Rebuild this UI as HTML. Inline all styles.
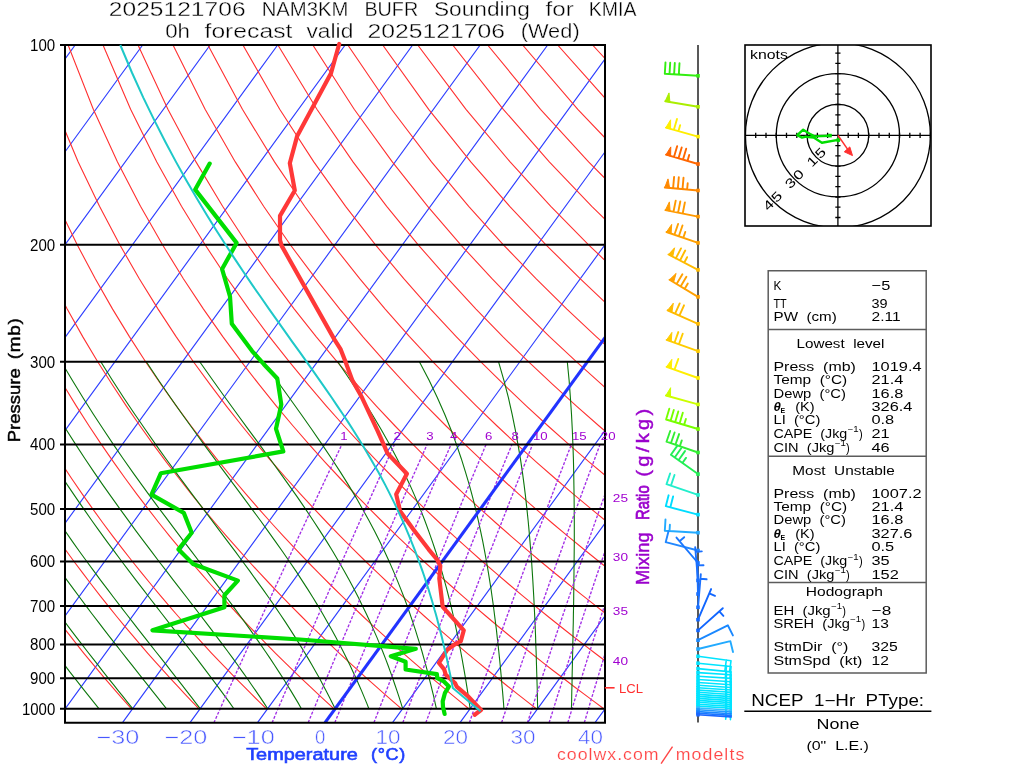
<!DOCTYPE html>
<html><head><meta charset="utf-8"><style>
html,body{margin:0;padding:0;background:#fff;}
svg{display:block;}
text{font-family:"Liberation Sans",sans-serif;white-space:pre;}
svg{will-change:transform;}
</style></head><body>
<svg width="1024" height="768" viewBox="0 0 1024 768">
<rect width="1024" height="768" fill="#fff"/>
<clipPath id="cp"><rect x="65" y="45" width="540" height="677.7"/></clipPath>
<g clip-path="url(#cp)">
<path d="M-755 722.7L-262.31 45M-687.5 722.7L-194.81 45M-620 722.7L-127.31 45M-552.5 722.7L-59.81 45M-485 722.7L7.69 45M-417.5 722.7L75.19 45M-350 722.7L142.69 45M-282.5 722.7L210.19 45M-215 722.7L277.69 45M-147.5 722.7L345.19 45M-80 722.7L412.69 45M-12.5 722.7L480.19 45M55 722.7L547.69 45M122.5 722.7L615.19 45M190 722.7L682.69 45M257.5 722.7L750.19 45M392.5 722.7L885.19 45M460 722.7L952.69 45M527.5 722.7L1020.19 45M595 722.7L1087.69 45M662.5 722.7L1155.19 45" stroke="#2f3fff" stroke-width="1.15" fill="none"/>
<path d="M-3.7 708.7L-9.2 701.4L-14.8 693.9L-20.5 686.2L-26.2 678.3L-32.0 670.2L-37.9 661.9L-43.8 653.3L-49.9 644.4L-56.0 635.2L-62.1 625.8L-68.4 616.0L-74.7 605.9L-81.2 595.4L-87.7 584.5L-94.3 573.2L-101.0 561.5L-107.8 549.2L-114.7 536.4L-121.7 523.0L-128.8 508.9L-136.0 494.1L-143.3 478.5L-150.7 462.1L-158.3 444.6L-165.9 426.0L-173.7 406.1L-181.5 384.7L-189.4 361.7L-197.3 336.6L-205.3 309.1L-213.3 278.7L-221.1 244.8L-228.7 206.3L-235.8 161.9L-242.0 109.3L-246.6 45.0M63.8 708.7L57.8 701.4L51.7 693.9L45.5 686.2L39.3 678.3L33.0 670.2L26.5 661.9L20.1 653.3L13.5 644.4L6.8 635.2L0.0 625.8L-6.8 616.0L-13.8 605.9L-20.8 595.4L-28.0 584.5L-35.3 573.2L-42.7 561.5L-50.2 549.2L-57.8 536.4L-65.5 523.0L-73.4 508.9L-81.4 494.1L-89.6 478.5L-97.9 462.1L-106.3 444.6L-114.9 426.0L-123.6 406.1L-132.5 384.7L-141.5 361.7L-150.7 336.6L-159.9 309.1L-169.2 278.7L-178.5 244.8L-187.7 206.3L-196.6 161.9L-204.8 109.3L-211.6 45.0M131.3 708.7L124.8 701.4L118.2 693.9L111.5 686.2L104.8 678.3L97.9 670.2L91.0 661.9L83.9 653.3L76.8 644.4L69.6 635.2L62.2 625.8L54.8 616.0L47.2 605.9L39.5 595.4L31.7 584.5L23.8 573.2L15.7 561.5L7.5 549.2L-0.9 536.4L-9.4 523.0L-18.0 508.9L-26.9 494.1L-35.9 478.5L-45.0 462.1L-54.4 444.6L-63.9 426.0L-73.6 406.1L-83.6 384.7L-93.7 361.7L-104.0 336.6L-114.5 309.1L-125.1 278.7L-135.9 244.8L-146.7 206.3L-157.3 161.9L-167.5 109.3L-176.7 45.0M198.8 708.7L191.8 701.4L184.7 693.9L177.6 686.2L170.3 678.3L162.9 670.2L155.4 661.9L147.8 653.3L140.1 644.4L132.3 635.2L124.4 625.8L116.3 616.0L108.2 605.9L99.8 595.4L91.4 584.5L82.8 573.2L74.0 561.5L65.1 549.2L56.0 536.4L46.8 523.0L37.3 508.9L27.7 494.1L17.9 478.5L7.8 462.1L-2.4 444.6L-12.9 426.0L-23.6 406.1L-34.6 384.7L-45.8 361.7L-57.3 336.6L-69.1 309.1L-81.1 278.7L-93.3 244.8L-105.6 206.3L-118.0 161.9L-130.2 109.3L-141.7 45.0M266.3 708.7L258.8 701.4L251.3 693.9L243.6 686.2L235.8 678.3L227.9 670.2L219.9 661.9L211.7 653.3L203.5 644.4L195.1 635.2L186.6 625.8L177.9 616.0L169.1 605.9L160.2 595.4L151.1 584.5L141.8 573.2L132.4 561.5L122.7 549.2L112.9 536.4L102.9 523.0L92.7 508.9L82.3 494.1L71.6 478.5L60.7 462.1L49.5 444.6L38.1 426.0L26.4 406.1L14.4 384.7L2.0 361.7L-10.6 336.6L-23.6 309.1L-37.0 278.7L-50.6 244.8L-64.6 206.3L-78.8 161.9L-93.0 109.3L-106.7 45.0M333.8 708.7L325.9 701.4L317.8 693.9L309.6 686.2L301.3 678.3L292.8 670.2L284.3 661.9L275.6 653.3L266.8 644.4L257.8 635.2L248.7 625.8L239.5 616.0L230.1 605.9L220.5 595.4L210.7 584.5L200.8 573.2L190.7 561.5L180.4 549.2L169.8 536.4L159.1 523.0L148.1 508.9L136.8 494.1L125.3 478.5L113.6 462.1L101.5 444.6L89.1 426.0L76.4 406.1L63.3 384.7L49.9 361.7L36.0 336.6L21.8 309.1L7.1 278.7L-8.0 244.8L-23.6 206.3L-39.5 161.9L-55.7 109.3L-71.8 45.0M401.3 708.7L392.9 701.4L384.3 693.9L375.6 686.2L366.8 678.3L357.8 670.2L348.7 661.9L339.5 653.3L330.1 644.4L320.6 635.2L310.9 625.8L301.1 616.0L291.0 605.9L280.8 595.4L270.4 584.5L259.8 573.2L249.0 561.5L238.0 549.2L226.7 536.4L215.2 523.0L203.4 508.9L191.4 494.1L179.1 478.5L166.4 462.1L153.4 444.6L140.1 426.0L126.4 406.1L112.3 384.7L97.7 361.7L82.7 336.6L67.2 309.1L51.2 278.7L34.6 244.8L17.4 206.3L-0.3 161.9L-18.4 109.3L-36.8 45.0M468.8 708.7L459.9 701.4L450.8 693.9L441.6 686.2L432.3 678.3L422.8 670.2L413.2 661.9L403.4 653.3L393.5 644.4L383.4 635.2L373.1 625.8L362.6 616.0L352.0 605.9L341.2 595.4L330.1 584.5L318.8 573.2L307.4 561.5L295.6 549.2L283.6 536.4L271.4 523.0L258.8 508.9L246.0 494.1L232.8 478.5L219.3 462.1L205.4 444.6L191.1 426.0L176.4 406.1L161.2 384.7L145.6 361.7L129.4 336.6L112.6 309.1L95.3 278.7L77.2 244.8L58.5 206.3L39.0 161.9L18.8 109.3L-1.8 45.0M536.3 708.7L526.9 701.4L517.3 693.9L507.6 686.2L497.8 678.3L487.8 670.2L477.6 661.9L467.3 653.3L456.8 644.4L446.1 635.2L435.3 625.8L424.2 616.0L413.0 605.9L401.5 595.4L389.8 584.5L377.9 573.2L365.7 561.5L353.2 549.2L340.5 536.4L327.5 523.0L314.2 508.9L300.5 494.1L286.5 478.5L272.1 462.1L257.3 444.6L242.1 426.0L226.4 406.1L210.2 384.7L193.4 361.7L176.1 336.6L158.1 309.1L139.3 278.7L119.8 244.8L99.5 206.3L78.2 161.9L56.1 109.3L33.1 45.0M603.8 708.7L593.9 701.4L583.8 693.9L573.6 686.2L563.3 678.3L552.7 670.2L542.0 661.9L531.2 653.3L520.1 644.4L508.9 635.2L497.4 625.8L485.8 616.0L473.9 605.9L461.8 595.4L449.5 584.5L436.9 573.2L424.0 561.5L410.9 549.2L397.4 536.4L383.7 523.0L369.6 508.9L355.1 494.1L340.3 478.5L325.0 462.1L309.3 444.6L293.1 426.0L276.4 406.1L259.2 384.7L241.3 361.7L222.8 336.6L203.5 309.1L183.4 278.7L162.5 244.8L140.5 206.3L117.5 161.9L93.3 109.3L68.1 45.0M671.3 708.7L660.9 701.4L650.4 693.9L639.6 686.2L628.8 678.3L617.7 670.2L606.5 661.9L595.1 653.3L583.5 644.4L571.6 635.2L559.6 625.8L547.4 616.0L534.9 605.9L522.1 595.4L509.2 584.5L495.9 573.2L482.4 561.5L468.5 549.2L454.3 536.4L439.8 523.0L424.9 508.9L409.7 494.1L394.0 478.5L377.9 462.1L361.3 444.6L344.1 426.0L326.4 406.1L308.1 384.7L289.2 361.7L269.4 336.6L248.9 309.1L227.5 278.7L205.1 244.8L181.5 206.3L156.8 161.9L130.6 109.3L103.0 45.0M738.8 708.7L727.9 701.4L716.9 693.9L705.7 686.2L694.3 678.3L682.7 670.2L670.9 661.9L659.0 653.3L646.8 644.4L634.4 635.2L621.8 625.8L608.9 616.0L595.8 605.9L582.5 595.4L568.8 584.5L554.9 573.2L540.7 561.5L526.1 549.2L511.2 536.4L496.0 523.0L480.3 508.9L464.2 494.1L447.7 478.5L430.7 462.1L413.2 444.6L395.1 426.0L376.4 406.1L357.1 384.7L337.0 361.7L316.1 336.6L294.3 309.1L271.6 278.7L247.7 244.8L222.6 206.3L196.0 161.9L167.9 109.3L138.0 45.0M806.3 708.7L794.9 701.4L783.4 693.9L771.7 686.2L759.8 678.3L747.7 670.2L735.4 661.9L722.8 653.3L710.1 644.4L697.2 635.2L684.0 625.8L670.5 616.0L656.8 605.9L642.8 595.4L628.5 584.5L613.9 573.2L599.0 561.5L583.8 549.2L568.1 536.4L552.1 523.0L535.7 508.9L518.8 494.1L501.5 478.5L483.6 462.1L465.2 444.6L446.1 426.0L426.4 406.1L406.0 384.7L384.9 361.7L362.8 336.6L339.8 309.1L315.7 278.7L290.3 244.8L263.6 206.3L235.3 161.9L205.1 109.3L173.0 45.0M873.8 708.7L862.0 701.4L849.9 693.9L837.7 686.2L825.3 678.3L812.6 670.2L799.8 661.9L786.7 653.3L773.4 644.4L759.9 635.2L746.1 625.8L732.1 616.0L717.8 605.9L703.1 595.4L688.2 584.5L673.0 573.2L657.4 561.5L641.4 549.2L625.0 536.4L608.3 523.0L591.1 508.9L573.4 494.1L555.2 478.5L536.4 462.1L517.1 444.6L497.1 426.0L476.5 406.1L455.0 384.7L432.7 361.7L409.5 336.6L385.2 309.1L359.7 278.7L332.9 244.8L304.6 206.3L274.5 161.9L242.4 109.3L207.9 45.0M941.3 708.7L929.0 701.4L916.4 693.9L903.7 686.2L890.8 678.3L877.6 670.2L864.2 661.9L850.6 653.3L836.8 644.4L822.7 635.2L808.3 625.8L793.7 616.0L778.7 605.9L763.5 595.4L747.9 584.5L732.0 573.2L715.7 561.5L699.0 549.2L681.9 536.4L664.4 523.0L646.4 508.9L627.9 494.1L608.9 478.5L589.3 462.1L569.1 444.6L548.1 426.0L526.5 406.1L504.0 384.7L480.6 361.7L456.2 336.6L430.6 309.1L403.8 278.7L375.5 244.8L345.6 206.3L313.8 161.9L279.7 109.3L242.9 45.0M1008.8 708.7L996.0 701.4L983.0 693.9L969.7 686.2L956.3 678.3L942.6 670.2L928.7 661.9L914.5 653.3L900.1 644.4L885.4 635.2L870.5 625.8L855.2 616.0L839.7 605.9L823.8 595.4L807.6 584.5L791.0 573.2L774.0 561.5L756.7 549.2L738.8 536.4L720.6 523.0L701.8 508.9L682.5 494.1L662.6 478.5L642.2 462.1L621.0 444.6L599.1 426.0L576.5 406.1L552.9 384.7L528.4 361.7L502.8 336.6L476.0 309.1L447.9 278.7L418.2 244.8L386.7 206.3L353.0 161.9L316.9 109.3L277.9 45.0M1076.3 708.7L1063.0 701.4L1049.5 693.9L1035.7 686.2L1021.8 678.3L1007.6 670.2L993.1 661.9L978.4 653.3L963.4 644.4L948.2 635.2L932.7 625.8L916.8 616.0L900.6 605.9L884.1 595.4L867.3 584.5L850.0 573.2L832.4 561.5L814.3 549.2L795.7 536.4L776.7 523.0L757.2 508.9L737.1 494.1L716.4 478.5L695.0 462.1L673.0 444.6L650.1 426.0L626.5 406.1L601.9 384.7L576.3 361.7L549.5 336.6L521.5 309.1L492.0 278.7L460.8 244.8L427.7 206.3L392.3 161.9L354.2 109.3L312.8 45.0M1143.8 708.7L1130.0 701.4L1116.0 693.9L1101.7 686.2L1087.3 678.3L1072.5 670.2L1057.5 661.9L1042.3 653.3L1026.8 644.4L1011.0 635.2L994.8 625.8L978.4 616.0L961.6 605.9L944.5 595.4L926.9 584.5L909.0 573.2L890.7 561.5L871.9 549.2L852.6 536.4L832.9 523.0L812.6 508.9L791.6 494.1L770.1 478.5L747.9 462.1L724.9 444.6L701.2 426.0L676.5 406.1L650.9 384.7L624.1 361.7L596.2 336.6L566.9 309.1L536.0 278.7L503.4 244.8L468.7 206.3L431.5 161.9L391.5 109.3L347.8 45.0M1211.3 708.7L1197.0 701.4L1182.5 693.9L1167.8 686.2L1152.8 678.3L1137.5 670.2L1122.0 661.9L1106.2 653.3L1090.1 644.4L1073.7 635.2L1057.0 625.8L1040.0 616.0L1022.6 605.9L1004.8 595.4L986.6 584.5L968.0 573.2L949.0 561.5L929.5 549.2L909.5 536.4L889.0 523.0L867.9 508.9L846.2 494.1L823.8 478.5L800.8 462.1L776.9 444.6L752.2 426.0L726.5 406.1L699.8 384.7L672.0 361.7L642.9 336.6L612.3 309.1L580.1 278.7L546.0 244.8L509.7 206.3L470.8 161.9L428.7 109.3L382.7 45.0M1278.8 708.7L1264.0 701.4L1249.0 693.9L1233.8 686.2L1218.3 678.3L1202.5 670.2L1186.4 661.9L1170.1 653.3L1153.4 644.4L1136.5 635.2L1119.2 625.8L1101.5 616.0L1083.5 605.9L1065.1 595.4L1046.3 584.5L1027.1 573.2L1007.4 561.5L987.2 549.2L966.4 536.4L945.2 523.0L923.3 508.9L900.8 494.1L877.6 478.5L853.6 462.1L828.8 444.6L803.2 426.0L776.5 406.1L748.8 384.7L719.8 361.7L689.6 336.6L657.7 309.1L624.2 278.7L588.6 244.8L550.8 206.3L510.1 161.9L466.0 109.3L417.7 45.0M1346.3 708.7L1331.1 701.4L1315.5 693.9L1299.8 686.2L1283.7 678.3L1267.4 670.2L1250.9 661.9L1234.0 653.3L1216.8 644.4L1199.2 635.2L1181.3 625.8L1163.1 616.0L1144.5 605.9L1125.5 595.4L1106.0 584.5L1086.1 573.2L1065.7 561.5L1044.8 549.2L1023.4 536.4L1001.3 523.0L978.7 508.9L955.4 494.1L931.3 478.5L906.5 462.1L880.8 444.6L854.2 426.0L826.5 406.1L797.7 384.7L767.7 361.7L736.2 336.6L703.2 309.1L668.3 278.7L631.3 244.8L591.8 206.3L549.3 161.9L503.3 109.3L452.7 45.0M1413.8 708.7L1398.1 701.4L1382.1 693.9L1365.8 686.2L1349.2 678.3L1332.4 670.2L1315.3 661.9L1297.9 653.3L1280.1 644.4L1262.0 635.2L1243.5 625.8L1224.7 616.0L1205.4 605.9L1185.8 595.4L1165.7 584.5L1145.1 573.2L1124.0 561.5L1102.4 549.2L1080.3 536.4L1057.5 523.0L1034.0 508.9L1009.9 494.1L985.0 478.5L959.3 462.1L932.7 444.6L905.2 426.0L876.5 406.1L846.7 384.7L815.5 361.7L782.9 336.6L748.6 309.1L712.4 278.7L673.9 244.8L632.8 206.3L588.6 161.9L540.5 109.3L487.6 45.0M1481.3 708.7L1465.1 701.4L1448.6 693.9L1431.8 686.2L1414.7 678.3L1397.4 670.2L1379.7 661.9L1361.7 653.3L1343.4 644.4L1324.7 635.2L1305.7 625.8L1286.3 616.0L1266.4 605.9L1246.1 595.4L1225.4 584.5L1204.1 573.2L1182.4 561.5L1160.1 549.2L1137.2 536.4L1113.6 523.0L1089.4 508.9L1064.5 494.1L1038.8 478.5L1012.2 462.1L984.7 444.6L956.2 426.0L926.5 406.1L895.7 384.7L863.4 361.7L829.6 336.6L794.0 309.1L756.4 278.7L716.5 244.8L673.8 206.3L627.8 161.9L577.8 109.3L522.6 45.0M1548.8 708.7L1532.1 701.4L1515.1 693.9L1497.8 686.2L1480.2 678.3L1462.4 670.2L1444.2 661.9L1425.6 653.3L1406.8 644.4L1387.5 635.2L1367.9 625.8L1347.8 616.0L1327.4 605.9L1306.4 595.4L1285.0 584.5L1263.1 573.2L1240.7 561.5L1217.7 549.2L1194.1 536.4L1169.8 523.0L1144.8 508.9L1119.1 494.1L1092.5 478.5L1065.1 462.1L1036.6 444.6L1007.2 426.0L976.5 406.1L944.6 384.7L911.3 361.7L876.3 336.6L839.4 309.1L800.5 278.7L759.1 244.8L714.8 206.3L667.1 161.9L615.0 109.3L557.6 45.0M1616.3 708.7L1599.1 701.4L1581.6 693.9L1563.8 686.2L1545.7 678.3L1527.3 670.2L1508.6 661.9L1489.5 653.3L1470.1 644.4L1450.3 635.2L1430.0 625.8L1409.4 616.0L1388.3 605.9L1366.8 595.4L1344.7 584.5L1322.2 573.2L1299.0 561.5L1275.3 549.2L1251.0 536.4L1225.9 523.0L1200.2 508.9L1173.6 494.1L1146.2 478.5L1117.9 462.1L1088.6 444.6L1058.2 426.0L1026.6 406.1L993.6 384.7L959.1 361.7L922.9 336.6L884.9 309.1L844.6 278.7L801.7 244.8L755.9 206.3L706.3 161.9L652.3 109.3L592.5 45.0M1683.8 708.7L1666.1 701.4L1648.1 693.9L1629.8 686.2L1611.2 678.3L1592.3 670.2L1573.0 661.9L1553.4 653.3L1533.4 644.4L1513.0 635.2L1492.2 625.8L1471.0 616.0L1449.3 605.9L1427.1 595.4L1404.4 584.5L1381.2 573.2L1357.4 561.5L1332.9 549.2L1307.9 536.4L1282.1 523.0L1255.5 508.9L1228.2 494.1L1200.0 478.5L1170.8 462.1L1140.6 444.6L1109.2 426.0L1076.6 406.1L1042.5 384.7L1007.0 361.7L969.6 336.6L930.3 309.1L888.7 278.7L844.4 244.8L796.9 206.3L745.6 161.9L689.6 109.3L627.5 45.0M1751.3 708.7L1733.1 701.4L1714.7 693.9L1695.9 686.2L1676.7 678.3L1657.3 670.2L1637.5 661.9L1617.3 653.3L1596.7 644.4L1575.8 635.2L1554.4 625.8L1532.6 616.0L1510.2 605.9L1487.4 595.4L1464.1 584.5L1440.2 573.2L1415.7 561.5L1390.6 549.2L1364.8 536.4L1338.2 523.0L1310.9 508.9L1282.8 494.1L1253.7 478.5L1223.6 462.1L1192.5 444.6L1160.2 426.0L1126.6 406.1L1091.5 384.7L1054.8 361.7L1016.3 336.6L975.7 309.1L932.7 278.7L887.0 244.8L837.9 206.3L784.9 161.9L726.8 109.3L662.4 45.0M1818.8 708.7L1800.2 701.4L1781.2 693.9L1761.9 686.2L1742.2 678.3L1722.3 670.2L1701.9 661.9L1681.2 653.3L1660.1 644.4L1638.5 635.2L1616.6 625.8L1594.1 616.0L1571.2 605.9L1547.8 595.4L1523.8 584.5L1499.2 573.2L1474.0 561.5L1448.2 549.2L1421.7 536.4L1394.4 523.0L1366.3 508.9L1337.3 494.1L1307.4 478.5L1276.5 462.1L1244.5 444.6L1211.2 426.0L1176.6 406.1L1140.5 384.7L1102.7 361.7L1063.0 336.6L1021.1 309.1L976.8 278.7L929.6 244.8L878.9 206.3L824.1 161.9L764.1 109.3L697.4 45.0M1886.3 708.7L1867.2 701.4L1847.7 693.9L1827.9 686.2L1807.7 678.3L1787.2 670.2L1766.4 661.9L1745.1 653.3L1723.4 644.4L1701.3 635.2L1678.7 625.8L1655.7 616.0L1632.2 605.9L1608.1 595.4L1583.5 584.5L1558.2 573.2L1532.4 561.5L1505.8 549.2L1478.6 536.4L1450.5 523.0L1421.7 508.9L1391.9 494.1L1361.2 478.5L1329.4 462.1L1296.4 444.6L1262.2 426.0L1226.6 406.1L1189.4 384.7L1150.5 361.7L1109.7 336.6L1066.6 309.1L1020.9 278.7L972.2 244.8L920.0 206.3L863.4 161.9L801.4 109.3L732.4 45.0M1953.8 708.7L1934.2 701.4L1914.2 693.9L1893.9 686.2L1873.2 678.3L1852.2 670.2L1830.8 661.9L1809.0 653.3L1786.7 644.4L1764.1 635.2L1740.9 625.8L1717.3 616.0L1693.1 605.9L1668.4 595.4L1643.1 584.5L1617.2 573.2L1590.7 561.5L1563.5 549.2L1535.5 536.4L1506.7 523.0L1477.0 508.9L1446.5 494.1L1414.9 478.5L1382.2 462.1L1348.4 444.6L1313.2 426.0L1276.6 406.1L1238.4 384.7L1198.4 361.7L1156.3 336.6L1112.0 309.1L1065.0 278.7L1014.8 244.8L961.0 206.3L902.6 161.9L838.6 109.3L767.3 45.0M2021.3 708.7L2001.2 701.4L1980.7 693.9L1959.9 686.2L1938.7 678.3L1917.2 670.2L1895.2 661.9L1872.9 653.3L1850.1 644.4L1826.8 635.2L1803.1 625.8L1778.9 616.0L1754.1 605.9L1728.8 595.4L1702.8 584.5L1676.3 573.2L1649.0 561.5L1621.1 549.2L1592.4 536.4L1562.8 523.0L1532.4 508.9L1501.0 494.1L1468.6 478.5L1435.1 462.1L1400.3 444.6L1364.2 426.0L1326.6 406.1L1287.3 384.7L1246.2 361.7L1203.0 336.6L1157.4 309.1L1109.1 278.7L1057.5 244.8L1002.0 206.3L941.9 161.9L875.9 109.3L802.3 45.0" stroke="#ff3030" stroke-width="1.1" fill="none"/>
<path d="M65.2 708.7L60.6 702.9L55.9 696.9L51.2 690.9L46.4 684.7L41.5 678.3L36.6 671.9L31.6 665.2L26.6 658.4L21.4 651.5L16.2 644.4L11.0 637.1L5.6 629.6L0.2 621.9L-5.2 614.0L-10.8 605.9L-16.4 597.5L-22.1 588.9L-27.9 580.1L-33.7 570.9L-39.6 561.5L-45.7 551.7L-51.7 541.6L-57.9 531.1L-64.2 520.2L-70.5 508.9L-76.9 497.1L-83.5 484.9L-90.1 472.1L-96.8 458.7L-103.6 444.6L-110.5 429.8L-117.5 414.2L-124.6 397.7L-131.7 380.3L-139.0 361.7M98.9 708.7L94.3 702.9L89.5 696.9L84.7 690.9L79.8 684.7L74.9 678.3L69.8 671.9L64.7 665.2L59.5 658.4L54.2 651.5L48.8 644.4L43.4 637.1L37.9 629.6L32.3 621.9L26.6 614.0L20.8 605.9L15.0 597.5L9.0 588.9L3.0 580.1L-3.1 570.9L-9.3 561.5L-15.6 551.7L-22.0 541.6L-28.4 531.1L-35.0 520.2L-41.7 508.9L-48.4 497.1L-55.3 484.9L-62.2 472.1L-69.3 458.7L-76.5 444.6L-83.8 429.8L-91.2 414.2L-98.7 397.7L-106.3 380.3L-114.1 361.7M132.7 708.7L128.0 702.9L123.3 696.9L118.4 690.9L113.5 684.7L108.4 678.3L103.3 671.9L98.1 665.2L92.8 658.4L87.4 651.5L81.9 644.4L76.3 637.1L70.6 629.6L64.8 621.9L59.0 614.0L53.0 605.9L46.9 597.5L40.8 588.9L34.5 580.1L28.1 570.9L21.7 561.5L15.1 551.7L8.5 541.6L1.7 531.1L-5.2 520.2L-12.2 508.9L-19.2 497.1L-26.5 484.9L-33.8 472.1L-41.2 458.7L-48.8 444.6L-56.5 429.8L-64.3 414.2L-72.2 397.7L-80.3 380.3L-88.5 361.7M166.4 708.7L161.8 702.9L157.1 696.9L152.3 690.9L147.4 684.7L142.4 678.3L137.3 671.9L132.0 665.2L126.6 658.4L121.2 651.5L115.6 644.4L109.9 637.1L104.1 629.6L98.2 621.9L92.1 614.0L86.0 605.9L79.8 597.5L73.4 588.9L66.9 580.1L60.3 570.9L53.6 561.5L46.8 551.7L39.8 541.6L32.8 531.1L25.6 520.2L18.3 508.9L10.9 497.1L3.3 484.9L-4.4 472.1L-12.2 458.7L-20.2 444.6L-28.3 429.8L-36.5 414.2L-44.9 397.7L-53.5 380.3L-62.2 361.7M200.2 708.7L195.7 702.9L191.2 696.9L186.5 690.9L181.7 684.7L176.8 678.3L171.7 671.9L166.5 665.2L161.2 658.4L155.7 651.5L150.1 644.4L144.4 637.1L138.5 629.6L132.5 621.9L126.4 614.0L120.1 605.9L113.7 597.5L107.2 588.9L100.5 580.1L93.7 570.9L86.8 561.5L79.7 551.7L72.5 541.6L65.2 531.1L57.7 520.2L50.1 508.9L42.3 497.1L34.4 484.9L26.3 472.1L18.1 458.7L9.7 444.6L1.2 429.8L-7.5 414.2L-16.3 397.7L-25.4 380.3L-34.6 361.7M233.9 708.7L229.8 702.9L225.4 696.9L221.0 690.9L216.4 684.7L211.7 678.3L206.8 671.9L201.7 665.2L196.6 658.4L191.2 651.5L185.7 644.4L180.0 637.1L174.2 629.6L168.2 621.9L162.1 614.0L155.8 605.9L149.3 597.5L142.7 588.9L135.9 580.1L128.9 570.9L121.8 561.5L114.5 551.7L107.0 541.6L99.4 531.1L91.6 520.2L83.7 508.9L75.6 497.1L67.3 484.9L58.9 472.1L50.3 458.7L41.5 444.6L32.5 429.8L23.3 414.2L14.0 397.7L4.4 380.3L-5.3 361.7M267.7 708.7L263.9 702.9L259.9 696.9L255.8 690.9L251.5 684.7L247.1 678.3L242.5 671.9L237.8 665.2L232.9 658.4L227.8 651.5L222.5 644.4L217.0 637.1L211.4 629.6L205.5 621.9L199.5 614.0L193.2 605.9L186.8 597.5L180.1 588.9L173.3 580.1L166.3 570.9L159.0 561.5L151.6 551.7L144.0 541.6L136.1 531.1L128.1 520.2L119.9 508.9L111.5 497.1L102.8 484.9L94.0 472.1L85.0 458.7L75.8 444.6L66.3 429.8L56.7 414.2L46.8 397.7L36.7 380.3L26.4 361.7M301.4 708.7L298.1 702.9L294.5 696.9L290.9 690.9L287.1 684.7L283.1 678.3L278.9 671.9L274.6 665.2L270.1 658.4L265.4 651.5L260.5 644.4L255.4 637.1L250.1 629.6L244.5 621.9L238.8 614.0L232.8 605.9L226.5 597.5L220.1 588.9L213.3 580.1L206.4 570.9L199.2 561.5L191.7 551.7L184.0 541.6L176.1 531.1L167.9 520.2L159.4 508.9L150.7 497.1L141.8 484.9L132.6 472.1L123.2 458.7L113.5 444.6L103.6 429.8L93.4 414.2L83.0 397.7L72.3 380.3L61.3 361.7M335.2 708.7L332.3 702.9L329.3 696.9L326.2 690.9L322.9 684.7L319.5 678.3L315.9 671.9L312.1 665.2L308.1 658.4L304.0 651.5L299.6 644.4L295.1 637.1L290.3 629.6L285.3 621.9L280.0 614.0L274.5 605.9L268.7 597.5L262.6 588.9L256.2 580.1L249.6 570.9L242.6 561.5L235.4 551.7L227.8 541.6L219.9 531.1L211.7 520.2L203.2 508.9L194.3 497.1L185.2 484.9L175.7 472.1L165.9 458.7L155.8 444.6L145.5 429.8L134.8 414.2L123.7 397.7L112.4 380.3L100.8 361.7M368.9 708.7L366.6 702.9L364.1 696.9L361.6 690.9L358.9 684.7L356.1 678.3L353.1 671.9L350.0 665.2L346.7 658.4L343.2 651.5L339.6 644.4L335.7 637.1L331.6 629.6L327.3 621.9L322.8 614.0L318.0 605.9L312.9 597.5L307.5 588.9L301.8 580.1L295.8 570.9L289.4 561.5L282.7 551.7L275.5 541.6L268.0 531.1L260.2 520.2L251.8 508.9L243.1 497.1L234.0 484.9L224.5 472.1L214.5 458.7L204.1 444.6L193.4 429.8L182.2 414.2L170.6 397.7L158.6 380.3L146.3 361.7M402.7 708.7L400.9 702.9L399.0 696.9L397.0 690.9L394.9 684.7L392.7 678.3L390.4 671.9L388.0 665.2L385.4 658.4L382.7 651.5L379.8 644.4L376.8 637.1L373.5 629.6L370.1 621.9L366.4 614.0L362.5 605.9L358.4 597.5L354.0 588.9L349.2 580.1L344.2 570.9L338.7 561.5L333.0 551.7L326.8 541.6L320.1 531.1L313.0 520.2L305.4 508.9L297.4 497.1L288.7 484.9L279.6 472.1L269.9 458.7L259.6 444.6L248.7 429.8L237.3 414.2L225.3 397.7L212.8 380.3L199.7 361.7M436.4 708.7L435.1 702.9L433.8 696.9L432.3 690.9L430.8 684.7L429.2 678.3L427.6 671.9L425.8 665.2L423.9 658.4L422.0 651.5L419.9 644.4L417.6 637.1L415.3 629.6L412.7 621.9L410.0 614.0L407.2 605.9L404.1 597.5L400.7 588.9L397.2 580.1L393.3 570.9L389.2 561.5L384.7 551.7L379.8 541.6L374.5 531.1L368.8 520.2L362.5 508.9L355.8 497.1L348.4 484.9L340.4 472.1L331.7 458.7L322.2 444.6L312.0 429.8L301.1 414.2L289.3 397.7L276.7 380.3L263.3 361.7M470.2 708.7L469.3 702.9L468.4 696.9L467.5 690.9L466.5 684.7L465.5 678.3L464.4 671.9L463.2 665.2L462.0 658.4L460.7 651.5L459.3 644.4L457.9 637.1L456.3 629.6L454.7 621.9L452.9 614.0L451.0 605.9L448.9 597.5L446.7 588.9L444.3 580.1L441.7 570.9L438.8 561.5L435.8 551.7L432.4 541.6L428.7 531.1L424.7 520.2L420.2 508.9L415.3 497.1L409.9 484.9L403.8 472.1L397.1 458.7L389.6 444.6L381.3 429.8L372.1 414.2L361.8 397.7L350.3 380.3L337.7 361.7M503.9 708.7L503.5 702.9L503.0 696.9L502.5 690.9L501.9 684.7L501.4 678.3L500.8 671.9L500.2 665.2L499.5 658.4L498.8 651.5L498.0 644.4L497.2 637.1L496.4 629.6L495.4 621.9L494.4 614.0L493.4 605.9L492.2 597.5L491.0 588.9L489.6 580.1L488.1 570.9L486.5 561.5L484.7 551.7L482.8 541.6L480.6 531.1L478.2 520.2L475.6 508.9L472.6 497.1L469.3 484.9L465.5 472.1L461.3 458.7L456.5 444.6L451.0 429.8L444.7 414.2L437.4 397.7L429.1 380.3L419.4 361.7M537.7 708.7L537.5 702.9L537.4 696.9L537.3 690.9L537.1 684.7L536.9 678.3L536.7 671.9L536.5 665.2L536.3 658.4L536.1 651.5L535.8 644.4L535.6 637.1L535.3 629.6L535.0 621.9L534.6 614.0L534.2 605.9L533.8 597.5L533.3 588.9L532.8 580.1L532.2 570.9L531.6 561.5L530.8 551.7L530.0 541.6L529.1 531.1L528.1 520.2L526.9 508.9L525.6 497.1L524.1 484.9L522.4 472.1L520.4 458.7L518.0 444.6L515.3 429.8L512.1 414.2L508.4 397.7L503.9 380.3L498.5 361.7M571.4 708.7L571.6 702.9L571.7 696.9L571.8 690.9L572.0 684.7L572.1 678.3L572.2 671.9L572.4 665.2L572.5 658.4L572.7 651.5L572.8 644.4L573.0 637.1L573.1 629.6L573.3 621.9L573.4 614.0L573.6 605.9L573.7 597.5L573.8 588.9L573.9 580.1L574.0 570.9L574.1 561.5L574.2 551.7L574.3 541.6L574.3 531.1L574.3 520.2L574.2 508.9L574.1 497.1L573.9 484.9L573.7 472.1L573.4 458.7L572.9 444.6L572.3 429.8L571.5 414.2L570.4 397.7L569.1 380.3L567.3 361.7M605.2 708.7L605.5 702.9L605.9 696.9L606.2 690.9L606.6 684.7L607.0 678.3L607.4 671.9L607.8 665.2L608.2 658.4L608.6 651.5L609.1 644.4L609.5 637.1L610.0 629.6L610.5 621.9L611.0 614.0L611.6 605.9L612.1 597.5L612.7 588.9L613.3 580.1L613.9 570.9L614.5 561.5L615.2 551.7L615.8 541.6L616.5 531.1L617.2 520.2L618.0 508.9L618.7 497.1L619.5 484.9L620.3 472.1L621.1 458.7L621.9 444.6L622.7 429.8L623.5 414.2L624.2 397.7L625.0 380.3L625.6 361.7M638.9 708.7L639.4 702.9L639.9 696.9L640.4 690.9L641.0 684.7L641.5 678.3L642.1 671.9L642.7 665.2L643.4 658.4L644.0 651.5L644.7 644.4L645.4 637.1L646.1 629.6L646.9 621.9L647.6 614.0L648.5 605.9L649.3 597.5L650.2 588.9L651.1 580.1L652.1 570.9L653.1 561.5L654.2 551.7L655.3 541.6L656.4 531.1L657.6 520.2L658.9 508.9L660.2 497.1L661.6 484.9L663.1 472.1L664.6 458.7L666.3 444.6L668.0 429.8L669.8 414.2L671.7 397.7L673.7 380.3L675.9 361.7" stroke="#0c760c" stroke-width="1.1" fill="none"/>
<path d="M213.9 722.8L217.0 715.8L220.2 708.7L223.4 701.4L226.8 693.9L230.3 686.2L233.8 678.3L237.5 670.2L241.3 661.9L245.2 653.3L249.2 644.4L253.3 635.2L257.7 625.8L262.1 616.0L266.7 605.9L271.5 595.4L276.5 584.5L281.8 573.2L287.2 561.5L292.9 549.2L298.8 536.4L305.1 523.0L311.6 508.9L318.5 494.1L325.8 478.5L333.6 462.1L341.8 444.6M272.1 722.8L275.0 715.8L278.0 708.7L281.2 701.4L284.4 693.9L287.7 686.2L291.0 678.3L294.5 670.2L298.1 661.9L301.9 653.3L305.7 644.4L309.7 635.2L313.8 625.8L318.0 616.0L322.5 605.9L327.1 595.4L331.8 584.5L336.8 573.2L342.0 561.5L347.5 549.2L353.2 536.4L359.1 523.0L365.4 508.9L372.1 494.1L379.1 478.5L386.5 462.1L394.4 444.6M308.2 722.8L311.0 715.8L314.0 708.7L317.0 701.4L320.1 693.9L323.3 686.2L326.6 678.3L330.0 670.2L333.4 661.9L337.0 653.3L340.8 644.4L344.6 635.2L348.6 625.8L352.7 616.0L357.0 605.9L361.5 595.4L366.1 584.5L371.0 573.2L376.0 561.5L381.3 549.2L386.8 536.4L392.6 523.0L398.8 508.9L405.2 494.1L412.0 478.5L419.3 462.1L427.0 444.6M334.8 722.8L337.6 715.8L340.5 708.7L343.4 701.4L346.4 693.9L349.6 686.2L352.8 678.3L356.1 670.2L359.5 661.9L363.0 653.3L366.6 644.4L370.4 635.2L374.3 625.8L378.3 616.0L382.5 605.9L386.9 595.4L391.4 584.5L396.1 573.2L401.1 561.5L406.2 549.2L411.6 536.4L417.3 523.0L423.3 508.9L429.6 494.1L436.3 478.5L443.4 462.1L451.0 444.6M373.9 722.8L376.6 715.8L379.3 708.7L382.2 701.4L385.1 693.9L388.1 686.2L391.1 678.3L394.3 670.2L397.6 661.9L401.0 653.3L404.5 644.4L408.1 635.2L411.9 625.8L415.8 616.0L419.8 605.9L424.0 595.4L428.4 584.5L433.0 573.2L437.7 561.5L442.7 549.2L447.9 536.4L453.4 523.0L459.2 508.9L465.3 494.1L471.8 478.5L478.7 462.1L486.0 444.6M402.8 722.8L405.4 715.8L408.0 708.7L410.8 701.4L413.6 693.9L416.5 686.2L419.5 678.3L422.6 670.2L425.8 661.9L429.0 653.3L432.4 644.4L436.0 635.2L439.6 625.8L443.4 616.0L447.3 605.9L451.4 595.4L455.7 584.5L460.1 573.2L464.8 561.5L469.6 549.2L474.7 536.4L480.1 523.0L485.7 508.9L491.7 494.1L498.0 478.5L504.7 462.1L511.9 444.6M425.8 722.8L428.4 715.8L431.0 708.7L433.6 701.4L436.4 693.9L439.2 686.2L442.1 678.3L445.2 670.2L448.3 661.9L451.5 653.3L454.8 644.4L458.2 635.2L461.8 625.8L465.5 616.0L469.3 605.9L473.3 595.4L477.5 584.5L481.8 573.2L486.4 561.5L491.1 549.2L496.1 536.4L501.4 523.0L506.9 508.9L512.7 494.1L518.9 478.5L525.5 462.1L532.5 444.6M469.4 722.8L471.8 715.8L474.3 708.7L476.8 701.4L479.4 693.9L482.1 686.2L484.9 678.3L487.8 670.2L490.7 661.9L493.8 653.3L496.9 644.4L500.2 635.2L503.6 625.8L507.1 616.0L510.8 605.9L514.6 595.4L518.6 584.5L522.8 573.2L527.1 561.5L531.7 549.2L536.4 536.4L541.5 523.0L546.8 508.9L552.4 494.1L558.3 478.5L564.6 462.1L571.3 444.6M501.6 722.8L503.9 715.8L506.3 708.7L508.7 701.4L511.3 693.9L513.8 686.2L516.5 678.3L519.3 670.2L522.1 661.9L525.1 653.3L528.1 644.4L531.3 635.2L534.5 625.8L537.9 616.0L541.5 605.9L545.2 595.4L549.0 584.5L553.0 573.2L557.2 561.5L561.6 549.2L566.2 536.4L571.1 523.0L576.2 508.9L581.6 494.1L587.4 478.5L593.5 462.1L600.0 444.6M527.5 722.8L529.7 715.8L532.0 708.7L534.3 701.4L536.8 693.9L539.3 686.2L541.8 678.3L544.5 670.2L547.3 661.9L550.1 653.3L553.1 644.4L556.1 635.2L559.3 625.8L562.6 616.0L566.0 605.9L569.6 595.4L573.3 584.5L577.2 573.2L581.3 561.5L585.6 549.2L590.1 536.4L594.8 523.0L599.8 508.9L605.1 494.1L610.7 478.5L616.6 462.1L623.0 444.6M549.1 722.8L551.3 715.8L553.5 708.7L555.8 701.4L558.1 693.9L560.6 686.2L563.1 678.3L565.7 670.2L568.3 661.9L571.1 653.3L574.0 644.4L577.0 635.2L580.0 625.8L583.3 616.0L586.6 605.9L590.1 595.4L593.7 584.5L597.5 573.2L601.5 561.5L605.7 549.2L610.0 536.4L614.6 523.0L619.5 508.9L624.7 494.1L630.1 478.5L636.0 462.1L642.2 444.6M567.8 722.8L569.9 715.8L572.1 708.7L574.3 701.4L576.6 693.9L579.0 686.2L581.4 678.3L583.9 670.2L586.5 661.9L589.2 653.3L592.0 644.4L594.9 635.2L598.0 625.8L601.1 616.0L604.4 605.9L607.8 595.4L611.3 584.5L615.0 573.2L618.9 561.5L623.0 549.2L627.3 536.4L631.8 523.0L636.5 508.9L641.6 494.1L646.9 478.5L652.7 462.1L658.8 444.6M584.3 722.8L586.4 715.8L588.5 708.7L590.6 701.4L592.9 693.9L595.2 686.2L597.6 678.3L600.0 670.2L602.6 661.9L605.2 653.3L608.0 644.4L610.8 635.2L613.8 625.8L616.8 616.0L620.0 605.9L623.4 595.4L626.8 584.5L630.5 573.2L634.3 561.5L638.3 549.2L642.5 536.4L646.9 523.0L651.6 508.9L656.5 494.1L661.8 478.5L667.4 462.1L673.4 444.6" stroke="#a22ee6" stroke-width="1.35" fill="none" stroke-dasharray="2.9 1.6"/>
<path d="M325 722.7L817.69 45" stroke="#2233ff" stroke-width="3.1" fill="none"/>
</g>
<path d="M60 244.79H605M60 361.67H605M60 444.59H605M60 508.91H605M60 561.46H605M60 605.89H605M60 644.38H605M60 678.33H605M60 708.70H605" stroke="#000" stroke-width="2" fill="none"/>
<path d="M60 45H605V722.7H65V45" stroke="#000" stroke-width="2" fill="none"/>
<text transform="translate(30.1,50.8) scale(0.932,1)" font-size="16.2" fill="#000" textLength="27.0" lengthAdjust="spacing">100</text>
<text transform="translate(30.1,250.6) scale(0.932,1)" font-size="16.2" fill="#000" textLength="27.0" lengthAdjust="spacing">200</text>
<text transform="translate(30.1,367.5) scale(0.932,1)" font-size="16.2" fill="#000" textLength="27.0" lengthAdjust="spacing">300</text>
<text transform="translate(30.1,450.4) scale(0.932,1)" font-size="16.2" fill="#000" textLength="27.0" lengthAdjust="spacing">400</text>
<text transform="translate(30.1,514.7) scale(0.932,1)" font-size="16.2" fill="#000" textLength="27.0" lengthAdjust="spacing">500</text>
<text transform="translate(30.1,567.3) scale(0.932,1)" font-size="16.2" fill="#000" textLength="27.0" lengthAdjust="spacing">600</text>
<text transform="translate(30.1,611.7) scale(0.932,1)" font-size="16.2" fill="#000" textLength="27.0" lengthAdjust="spacing">700</text>
<text transform="translate(30.1,650.2) scale(0.932,1)" font-size="16.2" fill="#000" textLength="27.0" lengthAdjust="spacing">800</text>
<text transform="translate(30.1,684.1) scale(0.932,1)" font-size="16.2" fill="#000" textLength="27.0" lengthAdjust="spacing">900</text>
<text transform="translate(22.0,714.5) scale(0.924,1)" font-size="16.2" fill="#000" textLength="36.0" lengthAdjust="spacing">1000</text>
<text transform="translate(20.0,442.2) rotate(-90) scale(1.080,1)" font-size="17.1" fill="#000" textLength="68.4" lengthAdjust="spacing" stroke="#000" stroke-width="0.45">Pressure</text>
<text transform="translate(20.0,359.2) rotate(-90) scale(1.100,1)" font-size="17.1" fill="#000" textLength="37.3" lengthAdjust="spacing" stroke="#000" stroke-width="0.45">(mb)</text>
<path d="M339.2 44.0L331.0 73.2L297.2 135.9L289.8 163.2L294.8 190.5L280.0 215.9L280.0 240.0L281.7 245.9L334.5 339.6L340.7 349.4L345.2 361.1L352.2 380.0L362.0 397.6L377.6 430.8L384.5 446.4L387.4 453.2L406.9 473.8L396.2 494.3L400.0 510.9L413.8 530.0L428.6 549.3L437.4 560.0L440.3 565.9L439.3 578.6L442.7 606.9L463.8 630.3L460.8 641.1L454.0 645.0L447.1 649.9L439.0 663.0L444.2 669.4L445.8 674.8L455.2 683.4L456.7 686.6L468.4 696.7L481.0 710.0L474.7 714.7" stroke="#ff3838" stroke-width="4.2" fill="none" stroke-linejoin="round" stroke-linecap="round"/>
<path d="M209.7 163.6L195.2 189.6L236.6 242.9L222.1 269.1L230.0 296.5L231.8 323.8L252.1 351.1L263.8 364.2L277.3 378.5L281.3 404.5L276.0 428.8L283.3 451.4L160.8 473.3L151.5 494.6L183.8 512.9L191.7 532.7L178.5 549.4L193.1 564.0L237.9 580.6L224.4 595.2L224.4 607.2L152.5 630.3L300.0 639.5L415.8 648.8L390.8 656.2L405.6 661.7L405.6 669.5L436.9 674.2L437.2 678.0L443.4 681.1L448.9 686.6L445.0 692.8L442.7 701.4L443.0 706.9L444.6 713.9" stroke="#00dd00" stroke-width="4.2" fill="none" stroke-linejoin="round" stroke-linecap="round"/>
<path d="M120.3 45.0L131.9 72.5L143.3 97.6L154.5 120.6L165.4 142.0L176.0 161.9L186.4 180.5L196.6 197.9L206.5 214.4L216.1 230.0L225.6 244.8L234.8 258.9L243.7 272.3L252.4 285.1L260.9 297.3L269.1 309.1L277.1 320.4L284.9 331.3L292.3 341.8L299.6 351.9L306.5 361.7L313.2 371.1L319.7 380.3L325.8 389.1L331.8 397.7L337.4 406.1L342.9 414.2L348.1 422.1L353.0 429.8L357.7 437.3L362.2 444.6L366.5 451.7L370.6 458.7L374.5 465.4L378.3 472.1L381.8 478.5L385.2 484.9L388.4 491.1L391.4 497.1L394.4 503.1L397.1 508.9L399.8 514.6L402.3 520.2L404.8 525.7L407.1 531.1L409.3 536.4L411.4 541.6L413.4 546.7L415.4 551.7L417.2 556.6L419.0 561.5L420.7 566.2L422.4 570.9L424.0 575.5L425.5 580.1L426.9 584.5L428.4 588.9L429.7 593.3L431.0 597.5L432.3 601.7L433.5 605.9L434.6 610.0L435.8 614.0L436.9 618.0L437.9 621.9L438.9 625.8L439.9 629.6L440.9 633.4L441.8 637.1L442.7 640.8L443.5 644.4L444.4 648.0L445.2 651.5L446.0 655.0L446.8 658.4L447.5 661.9L448.2 665.2L448.9 668.6L449.6 671.9L450.3 675.1L450.9 678.3L451.6 681.5L452.2 684.7L452.8 688.0L480.5 711.2" stroke="#1ec8c8" stroke-width="2" fill="none" stroke-linejoin="round"/>
<path d="M604.8 687.8H614.6" stroke="#ff3030" stroke-width="1.6"/>
<text transform="translate(619.0,692.5) scale(0.991,1)" font-size="13.2" fill="#ff3030" textLength="24.2" lengthAdjust="spacing">LCL</text>
<text transform="translate(340.3,439.6) scale(1.150,1)" font-size="11.5" fill="#a000d0" textLength="6.4" lengthAdjust="spacing">1</text>
<text transform="translate(393.6,439.6) scale(1.150,1)" font-size="11.5" fill="#a000d0" textLength="6.4" lengthAdjust="spacing">2</text>
<text transform="translate(426.3,439.6) scale(1.150,1)" font-size="11.5" fill="#a000d0" textLength="6.4" lengthAdjust="spacing">3</text>
<text transform="translate(450.1,439.6) scale(1.150,1)" font-size="11.5" fill="#a000d0" textLength="6.4" lengthAdjust="spacing">4</text>
<text transform="translate(485.1,439.6) scale(1.150,1)" font-size="11.5" fill="#a000d0" textLength="6.4" lengthAdjust="spacing">6</text>
<text transform="translate(511.6,439.6) scale(1.150,1)" font-size="11.5" fill="#a000d0" textLength="6.4" lengthAdjust="spacing">8</text>
<text transform="translate(532.9,439.6) scale(1.150,1)" font-size="11.5" fill="#a000d0" textLength="12.8" lengthAdjust="spacing">10</text>
<text transform="translate(572.0,439.6) scale(1.150,1)" font-size="11.5" fill="#a000d0" textLength="12.8" lengthAdjust="spacing">15</text>
<text transform="translate(600.8,439.6) scale(1.150,1)" font-size="11.5" fill="#a000d0" textLength="12.8" lengthAdjust="spacing">20</text>
<text transform="translate(612.8,501.8) scale(1.188,1)" font-size="11.5" fill="#a000d0" textLength="12.8" lengthAdjust="spacing">25</text>
<text transform="translate(612.8,561.1) scale(1.188,1)" font-size="11.5" fill="#a000d0" textLength="12.8" lengthAdjust="spacing">30</text>
<text transform="translate(612.8,615.1) scale(1.188,1)" font-size="11.5" fill="#a000d0" textLength="12.8" lengthAdjust="spacing">35</text>
<text transform="translate(612.8,665.1) scale(1.188,1)" font-size="11.5" fill="#a000d0" textLength="12.8" lengthAdjust="spacing">40</text>
<text transform="translate(649.0,585.0) rotate(-90) scale(0.973,1)" font-size="18.7" fill="#9a00cc" textLength="54.0" lengthAdjust="spacing" stroke="#9a00cc" stroke-width="0.45">Mixing</text>
<text transform="translate(649.0,520.0) rotate(-90) scale(0.793,1)" font-size="18.7" fill="#9a00cc" textLength="43.7" lengthAdjust="spacing" stroke="#9a00cc" stroke-width="0.75">Ratio</text>
<text transform="translate(649.0,476.7) rotate(-90) scale(1.080,1)" font-size="18.7" fill="#9a00cc" textLength="63.0" lengthAdjust="spacing" stroke="#9a00cc" stroke-width="0.45">(g/kg)</text>
<text transform="translate(96.6,743.6) scale(1.281,1)" font-size="19.7" fill="#4858ff" textLength="33.4" lengthAdjust="spacing" stroke="#fff" stroke-width="0.5">−30</text>
<text transform="translate(164.5,743.6) scale(1.281,1)" font-size="19.7" fill="#4858ff" textLength="33.4" lengthAdjust="spacing" stroke="#fff" stroke-width="0.5">−20</text>
<text transform="translate(231.9,743.6) scale(1.281,1)" font-size="19.7" fill="#4858ff" textLength="33.4" lengthAdjust="spacing" stroke="#fff" stroke-width="0.5">−10</text>
<text transform="translate(315.1,743.6) scale(0.940,1)" font-size="19.7" fill="#4858ff" textLength="11.0" lengthAdjust="spacing" stroke="#fff" stroke-width="0.5">0</text>
<text transform="translate(375.5,743.6) scale(1.141,1)" font-size="19.7" fill="#4858ff" textLength="21.9" lengthAdjust="spacing" stroke="#fff" stroke-width="0.5">10</text>
<text transform="translate(443.0,743.6) scale(1.141,1)" font-size="19.7" fill="#4858ff" textLength="21.9" lengthAdjust="spacing" stroke="#fff" stroke-width="0.5">20</text>
<text transform="translate(510.5,743.6) scale(1.141,1)" font-size="19.7" fill="#4858ff" textLength="21.9" lengthAdjust="spacing" stroke="#fff" stroke-width="0.5">30</text>
<text transform="translate(577.9,743.6) scale(1.141,1)" font-size="19.7" fill="#4858ff" textLength="21.9" lengthAdjust="spacing" stroke="#fff" stroke-width="0.5">40</text>
<text transform="translate(246.2,759.7) scale(1.212,1)" font-size="16.4" fill="#2040ff" textLength="92.1" lengthAdjust="spacing" stroke="#2040ff" stroke-width="0.6">Temperature</text>
<text transform="translate(371.0,759.7) scale(1.100,1)" font-size="16.4" fill="#2040ff" textLength="31.1" lengthAdjust="spacing" stroke="#2040ff" stroke-width="0.6">(°C)</text>
<text transform="translate(557.0,760.4) scale(1.080,1)" font-size="16.4" fill="#ff4444" textLength="94.0" lengthAdjust="spacing" stroke="#fff" stroke-width="0.15">coolwx.com</text>
<path d="M672.5 746.6L661.1 763.6" stroke="#ff4444" stroke-width="1.4"/>
<text transform="translate(675.7,760.4) scale(1.080,1)" font-size="16.4" fill="#ff4444" textLength="63.5" lengthAdjust="spacing" stroke="#fff" stroke-width="0.15">modelts</text>
<text transform="translate(108.8,16.4) scale(1.248,1)" font-size="19.7" fill="#000" textLength="109.6" lengthAdjust="spacing" stroke="#fff" stroke-width="0.35">2025121706</text>
<text transform="translate(261.7,16.4) scale(1.029,1)" font-size="19.7" fill="#000" textLength="84.3" lengthAdjust="spacing" stroke="#fff" stroke-width="0.35">NAM3KM</text>
<text transform="translate(364.4,16.4) scale(1.005,1)" font-size="19.7" fill="#000" textLength="53.6" lengthAdjust="spacing" stroke="#fff" stroke-width="0.35">BUFR</text>
<text transform="translate(434.0,16.4) scale(1.151,1)" font-size="19.7" fill="#000" textLength="83.2" lengthAdjust="spacing" stroke="#fff" stroke-width="0.35">Sounding</text>
<text transform="translate(545.6,16.4) scale(1.227,1)" font-size="19.7" fill="#000" textLength="23.0" lengthAdjust="spacing" stroke="#fff" stroke-width="0.35">for</text>
<text transform="translate(588.7,16.4) scale(0.990,1)" font-size="19.7" fill="#000" textLength="48.2" lengthAdjust="spacing" stroke="#fff" stroke-width="0.35">KMIA</text>
<text transform="translate(165.2,38.2) scale(1.132,1)" font-size="19.7" fill="#000" textLength="21.9" lengthAdjust="spacing" stroke="#fff" stroke-width="0.35">0h</text>
<text transform="translate(204.5,38.2) scale(1.254,1)" font-size="19.7" fill="#000" textLength="70.1" lengthAdjust="spacing" stroke="#fff" stroke-width="0.35">forecast</text>
<text transform="translate(306.5,38.2) scale(1.155,1)" font-size="19.7" fill="#000" textLength="40.5" lengthAdjust="spacing" stroke="#fff" stroke-width="0.35">valid</text>
<text transform="translate(367.4,38.2) scale(1.255,1)" font-size="19.7" fill="#000" textLength="109.6" lengthAdjust="spacing" stroke="#fff" stroke-width="0.35">2025121706</text>
<text transform="translate(520.7,38.2) scale(1.106,1)" font-size="19.7" fill="#000" textLength="53.3" lengthAdjust="spacing" stroke="#fff" stroke-width="0.35">(Wed)</text>
<path d="M698 45V722.6" stroke="#474747" stroke-width="1.8"/>
<path d="M698.0 75.8L664.8 73.7M664.8 73.7l0.7 -11.3M669.5 74.0l0.7 -11.3M674.1 74.3l0.7 -11.3M678.8 74.6l0.7 -11.3" stroke="#33ee11" stroke-width="1.9" fill="none" stroke-linecap="round"/><rect x="696.2" y="74.0" width="3.6" height="3.6" fill="#33ee11"/>
<path d="M698.0 106.8L665.2 101.2" stroke="#aaee00" stroke-width="1.9" fill="none" stroke-linecap="round"/><path d="M665.2 101.2L669.0 92.9L669.9 102.0Z" fill="#aaee00" stroke="#aaee00" stroke-width="1" stroke-linejoin="round"/><rect x="696.2" y="105.0" width="3.6" height="3.6" fill="#aaee00"/>
<path d="M698.0 136.6L665.9 127.6M673.9 129.8l3.1 -10.9M678.5 131.1l1.7 -6.0" stroke="#ffee00" stroke-width="1.9" fill="none" stroke-linecap="round"/><path d="M665.9 127.6L670.6 119.8L670.6 128.9Z" fill="#ffee00" stroke="#ffee00" stroke-width="1" stroke-linejoin="round"/><rect x="696.2" y="134.8" width="3.6" height="3.6" fill="#ffee00"/>
<path d="M698.0 164.0L666.0 154.7M674.0 157.0l3.2 -10.9M678.5 158.3l3.2 -10.9M683.0 159.6l3.2 -10.9M687.5 161.0l1.7 -6.0" stroke="#ff6600" stroke-width="1.9" fill="none" stroke-linecap="round"/><path d="M666.0 154.7L670.8 146.9L670.6 156.1Z" fill="#ff6600" stroke="#ff6600" stroke-width="1" stroke-linejoin="round"/><rect x="696.2" y="162.2" width="3.6" height="3.6" fill="#ff6600"/>
<path d="M698.0 190.5L664.8 187.5M673.1 188.2l1.0 -11.3M677.8 188.6l1.0 -11.3M682.5 189.1l1.0 -11.3M687.1 189.5l0.6 -6.2" stroke="#ff8800" stroke-width="1.9" fill="none" stroke-linecap="round"/><path d="M664.8 187.5L668.0 178.9L669.6 187.9Z" fill="#ff8800" stroke="#ff8800" stroke-width="1" stroke-linejoin="round"/><rect x="696.2" y="188.7" width="3.6" height="3.6" fill="#ff8800"/>
<path d="M698.0 216.6L665.4 210.1M673.5 211.7l2.2 -11.1M678.1 212.6l2.2 -11.1M682.7 213.5l2.2 -11.1" stroke="#ff9900" stroke-width="1.9" fill="none" stroke-linecap="round"/><path d="M665.4 210.1L669.4 201.9L670.1 211.0Z" fill="#ff9900" stroke="#ff9900" stroke-width="1" stroke-linejoin="round"/><rect x="696.2" y="214.8" width="3.6" height="3.6" fill="#ff9900"/>
<path d="M698.0 242.9L666.5 232.0M674.4 234.7l3.7 -10.7M678.8 236.2l3.7 -10.7M683.3 237.8l2.0 -5.9" stroke="#ffa000" stroke-width="1.9" fill="none" stroke-linecap="round"/><path d="M666.5 232.0L671.7 224.4L671.1 233.5Z" fill="#ffa000" stroke="#ffa000" stroke-width="1" stroke-linejoin="round"/><rect x="696.2" y="241.1" width="3.6" height="3.6" fill="#ffa000"/>
<path d="M698.0 269.9L668.5 254.5M675.8 258.4l5.2 -10.0M680.0 260.5l5.2 -10.0M684.2 262.7l2.9 -5.5" stroke="#ffbb00" stroke-width="1.9" fill="none" stroke-linecap="round"/><path d="M668.5 254.5L674.6 247.8L672.7 256.8Z" fill="#ffbb00" stroke="#ffbb00" stroke-width="1" stroke-linejoin="round"/><rect x="696.2" y="268.1" width="3.6" height="3.6" fill="#ffbb00"/>
<path d="M698.0 296.9L669.5 279.7M676.6 284.0l5.8 -9.7M680.6 286.4l5.8 -9.7M684.6 288.9l3.2 -5.3" stroke="#ffa000" stroke-width="1.9" fill="none" stroke-linecap="round"/><path d="M669.5 279.7L676.1 273.4L673.6 282.2Z" fill="#ffa000" stroke="#ffa000" stroke-width="1" stroke-linejoin="round"/><rect x="696.2" y="295.1" width="3.6" height="3.6" fill="#ffa000"/>
<path d="M698.0 323.8L667.6 310.3M675.1 313.7l4.6 -10.3M679.4 315.6l4.6 -10.3" stroke="#ffbb00" stroke-width="1.9" fill="none" stroke-linecap="round"/><path d="M667.6 310.3L673.3 303.2L671.9 312.3Z" fill="#ffbb00" stroke="#ffbb00" stroke-width="1" stroke-linejoin="round"/><rect x="696.2" y="322.0" width="3.6" height="3.6" fill="#ffbb00"/>
<path d="M698.0 351.1L666.6 339.9M674.5 342.7l3.8 -10.6M678.9 344.3l3.8 -10.6" stroke="#ffcc00" stroke-width="1.9" fill="none" stroke-linecap="round"/><path d="M666.6 339.9L671.9 332.4L671.2 341.5Z" fill="#ffcc00" stroke="#ffcc00" stroke-width="1" stroke-linejoin="round"/><rect x="696.2" y="349.3" width="3.6" height="3.6" fill="#ffcc00"/>
<path d="M698.0 378.0L666.6 366.8M674.5 369.6l3.8 -10.6" stroke="#ffee00" stroke-width="1.9" fill="none" stroke-linecap="round"/><path d="M666.6 366.8L671.9 359.3L671.2 368.4Z" fill="#ffee00" stroke="#ffee00" stroke-width="1" stroke-linejoin="round"/><rect x="696.2" y="376.2" width="3.6" height="3.6" fill="#ffee00"/>
<path d="M698.0 404.4L665.9 395.5" stroke="#ccff00" stroke-width="1.9" fill="none" stroke-linecap="round"/><path d="M665.9 395.5L670.6 387.7L670.5 396.8Z" fill="#ccff00" stroke="#ccff00" stroke-width="1" stroke-linejoin="round"/><rect x="696.2" y="402.6" width="3.6" height="3.6" fill="#ccff00"/>
<path d="M698.0 429.0L666.1 419.5M666.1 419.5l3.2 -10.8M670.6 420.8l3.2 -10.8M675.1 422.2l3.2 -10.8M679.6 423.5l3.2 -10.8M684.1 424.9l1.8 -5.9" stroke="#77ff00" stroke-width="1.9" fill="none" stroke-linecap="round"/><rect x="696.2" y="427.2" width="3.6" height="3.6" fill="#77ff00"/>
<path d="M698.0 452.5L666.5 441.7M666.5 441.7l3.7 -10.7M670.9 443.2l3.7 -10.7M675.4 444.8l3.7 -10.7M679.8 446.3l2.0 -5.9" stroke="#33ee33" stroke-width="1.9" fill="none" stroke-linecap="round"/><rect x="696.2" y="450.7" width="3.6" height="3.6" fill="#33ee33"/>
<path d="M698.0 474.1L670.9 454.8M670.9 454.8l6.5 -9.2M674.7 457.5l6.5 -9.2M678.5 460.3l6.5 -9.2M682.4 463.0l3.6 -5.1" stroke="#22ee55" stroke-width="1.9" fill="none" stroke-linecap="round"/><rect x="696.2" y="472.3" width="3.6" height="3.6" fill="#22ee55"/>
<path d="M698.0 494.9L666.5 484.2M666.5 484.2l3.6 -10.7M670.9 485.7l3.6 -10.7" stroke="#22eecc" stroke-width="1.9" fill="none" stroke-linecap="round"/><rect x="696.2" y="493.1" width="3.6" height="3.6" fill="#22eecc"/>
<path d="M698.0 514.6L665.8 506.2M665.8 506.2l2.8 -10.9M670.3 507.4l2.8 -10.9" stroke="#00ddff" stroke-width="1.9" fill="none" stroke-linecap="round"/><rect x="696.2" y="512.8" width="3.6" height="3.6" fill="#00ddff"/>
<path d="M698.0 532.7L664.8 530.7M664.8 530.7l0.7 -11.3M669.5 531.0l0.4 -6.2" stroke="#22aaff" stroke-width="1.9" fill="none" stroke-linecap="round"/><rect x="696.2" y="530.9" width="3.6" height="3.6" fill="#22aaff"/>
<path d="M698.0 550.5L665.7 542.2M665.7 542.2l2.8 -10.9" stroke="#2288ff" stroke-width="1.9" fill="none" stroke-linecap="round"/><rect x="696.2" y="548.7" width="3.6" height="3.6" fill="#2288ff"/>
<path d="M698.0 563.0L676.5 537.6M679.5 541.2l4.7 -4.0" stroke="#1a77ff" stroke-width="1.9" fill="none" stroke-linecap="round"/><rect x="696.2" y="561.2" width="3.6" height="3.6" fill="#1a77ff"/>
<path d="M698.0 580.4L695.2 547.2M695.6 551.9l6.2 -0.5" stroke="#1a70ff" stroke-width="1.9" fill="none" stroke-linecap="round"/><rect x="696.2" y="578.6" width="3.6" height="3.6" fill="#1a70ff"/>
<path d="M698.0 594.0L697.2 560.7M697.3 565.4l6.2 -0.2" stroke="#1a70ff" stroke-width="1.9" fill="none" stroke-linecap="round"/><rect x="696.2" y="592.2" width="3.6" height="3.6" fill="#1a70ff"/>
<path d="M698.0 607.3L700.8 574.1M700.4 578.8l6.2 0.5" stroke="#1a70ff" stroke-width="1.9" fill="none" stroke-linecap="round"/><rect x="696.2" y="605.5" width="3.6" height="3.6" fill="#1a70ff"/>
<path d="M698.0 619.7L711.1 589.1M709.3 593.4l5.7 2.4" stroke="#1166ff" stroke-width="1.9" fill="none" stroke-linecap="round"/><rect x="696.2" y="617.9" width="3.6" height="3.6" fill="#1166ff"/>
<path d="M698.0 630.4L722.8 608.2M719.3 611.3l4.1 4.6" stroke="#1166ff" stroke-width="1.9" fill="none" stroke-linecap="round"/><rect x="696.2" y="628.6" width="3.6" height="3.6" fill="#1166ff"/>
<path d="M698.0 640.2L727.8 625.3M727.8 625.3l5.1 10.1" stroke="#1a88ff" stroke-width="1.9" fill="none" stroke-linecap="round"/><rect x="696.2" y="638.4" width="3.6" height="3.6" fill="#1a88ff"/>
<path d="M698.0 649.0L730.3 641.1M730.3 641.1l2.7 11.0" stroke="#22aaff" stroke-width="1.9" fill="none" stroke-linecap="round"/><rect x="696.2" y="647.2" width="3.6" height="3.6" fill="#22aaff"/>
<path d="M698.0 656.3L731.0 660.8M731.0 660.8l-1.5 11.2M726.3 660.1l-1.5 11.2" stroke="#00e4ff" stroke-width="1.6" fill="none" stroke-linecap="round"/><rect x="696.2" y="654.5" width="3.6" height="3.6" fill="#00e4ff"/>
<path d="M698.0 663.2L731.1 666.5M731.1 666.5l-1.1 11.2M726.5 666.0l-1.1 11.2" stroke="#00e4ff" stroke-width="1.6" fill="none" stroke-linecap="round"/><rect x="696.2" y="661.4" width="3.6" height="3.6" fill="#00e4ff"/>
<path d="M698.0 668.6L731.1 671.9M731.1 671.9l-1.1 11.2M726.5 671.4l-1.1 11.2" stroke="#00e4ff" stroke-width="1.6" fill="none" stroke-linecap="round"/><rect x="696.2" y="666.8" width="3.6" height="3.6" fill="#00e4ff"/>
<path d="M698.0 672.6L731.2 674.8M731.2 674.8l-0.8 11.3M726.5 674.5l-0.8 11.3" stroke="#00e4ff" stroke-width="1.6" fill="none" stroke-linecap="round"/><rect x="696.2" y="670.8" width="3.6" height="3.6" fill="#00e4ff"/>
<path d="M698.0 676.2L731.2 678.4M731.2 678.4l-0.8 11.3M726.5 678.1l-0.8 11.3" stroke="#00e4ff" stroke-width="1.6" fill="none" stroke-linecap="round"/><rect x="696.2" y="674.4" width="3.6" height="3.6" fill="#00e4ff"/>
<path d="M698.0 679.5L731.2 681.7M731.2 681.7l-0.8 11.3M726.5 681.4l-0.8 11.3" stroke="#00e4ff" stroke-width="1.6" fill="none" stroke-linecap="round"/><rect x="696.2" y="677.7" width="3.6" height="3.6" fill="#00e4ff"/>
<path d="M698.0 682.5L731.2 684.7M731.2 684.7l-0.8 11.3M726.5 684.4l-0.8 11.3" stroke="#00e4ff" stroke-width="1.6" fill="none" stroke-linecap="round"/><rect x="696.2" y="680.7" width="3.6" height="3.6" fill="#00e4ff"/>
<path d="M698.0 685.3L731.2 687.5M731.2 687.5l-0.8 11.3M726.5 687.2l-0.8 11.3" stroke="#00e4ff" stroke-width="1.6" fill="none" stroke-linecap="round"/><rect x="696.2" y="683.5" width="3.6" height="3.6" fill="#00e4ff"/>
<path d="M698.0 687.8L731.2 690.0M731.2 690.0l-0.8 11.3M726.5 689.7l-0.8 11.3" stroke="#00e4ff" stroke-width="1.6" fill="none" stroke-linecap="round"/><rect x="696.2" y="686.0" width="3.6" height="3.6" fill="#00e4ff"/>
<path d="M698.0 690.1L731.2 692.3M731.2 692.3l-0.8 11.3M726.5 692.0l-0.8 11.3" stroke="#00e4ff" stroke-width="1.6" fill="none" stroke-linecap="round"/><rect x="696.2" y="688.3" width="3.6" height="3.6" fill="#00e4ff"/>
<path d="M698.0 692.3L731.2 694.5M731.2 694.5l-0.8 11.3M726.5 694.2l-0.8 11.3" stroke="#00e4ff" stroke-width="1.6" fill="none" stroke-linecap="round"/><rect x="696.2" y="690.5" width="3.6" height="3.6" fill="#00e4ff"/>
<path d="M698.0 694.4L731.2 696.6M731.2 696.6l-0.8 11.3M726.5 696.3l-0.8 11.3" stroke="#00e4ff" stroke-width="1.6" fill="none" stroke-linecap="round"/><rect x="696.2" y="692.6" width="3.6" height="3.6" fill="#00e4ff"/>
<path d="M698.0 696.4L731.2 698.6M731.2 698.6l-0.8 11.3M726.5 698.3l-0.8 11.3" stroke="#00e4ff" stroke-width="1.6" fill="none" stroke-linecap="round"/><rect x="696.2" y="694.6" width="3.6" height="3.6" fill="#00e4ff"/>
<path d="M698.0 698.4L731.2 700.6M731.2 700.6l-0.8 11.3M726.5 700.3l-0.8 11.3" stroke="#00e4ff" stroke-width="1.6" fill="none" stroke-linecap="round"/><rect x="696.2" y="696.6" width="3.6" height="3.6" fill="#00e4ff"/>
<path d="M698.0 700.4L731.2 702.6M731.2 702.6l-0.8 11.3M726.5 702.3l-0.8 11.3" stroke="#00e4ff" stroke-width="1.6" fill="none" stroke-linecap="round"/><rect x="696.2" y="698.6" width="3.6" height="3.6" fill="#00e4ff"/>
<path d="M698.0 702.3L731.2 704.5M731.2 704.5l-0.8 11.3M726.5 704.2l-0.8 11.3" stroke="#00e4ff" stroke-width="1.6" fill="none" stroke-linecap="round"/><rect x="696.2" y="700.5" width="3.6" height="3.6" fill="#00e4ff"/>
<path d="M698.0 704.2L731.2 706.4M731.2 706.4l-0.8 11.3M726.5 706.1l-0.8 11.3" stroke="#00e4ff" stroke-width="1.6" fill="none" stroke-linecap="round"/><rect x="696.2" y="702.4" width="3.6" height="3.6" fill="#00e4ff"/>
<path d="M698.0 706.1L731.2 708.3M731.2 708.3l-0.8 11.3M726.5 708.0l-0.8 11.3" stroke="#00e4ff" stroke-width="1.6" fill="none" stroke-linecap="round"/><rect x="696.2" y="704.3" width="3.6" height="3.6" fill="#00e4ff"/>
<path d="M698.0 708.0L731.2 710.2" stroke="#33bbff" stroke-width="1.6" fill="none" stroke-linecap="round"/><rect x="696.2" y="706.2" width="3.6" height="3.6" fill="#33bbff"/>
<path d="M698.0 709.8L731.2 712.0" stroke="#2299ff" stroke-width="1.6" fill="none" stroke-linecap="round"/><rect x="696.2" y="708.0" width="3.6" height="3.6" fill="#2299ff"/>
<path d="M698.0 711.6L731.2 713.8" stroke="#1a88ff" stroke-width="1.6" fill="none" stroke-linecap="round"/><rect x="696.2" y="709.8" width="3.6" height="3.6" fill="#1a88ff"/>
<path d="M698.0 713.2L731.2 715.4" stroke="#1a77ff" stroke-width="1.6" fill="none" stroke-linecap="round"/><rect x="696.2" y="711.4" width="3.6" height="3.6" fill="#1a77ff"/>
<path d="M698.0 714.7L731.2 716.9" stroke="#1a66ff" stroke-width="1.6" fill="none" stroke-linecap="round"/><rect x="696.2" y="712.9" width="3.6" height="3.6" fill="#1a66ff"/>
<rect x="745" y="45" width="186" height="181" fill="none" stroke="#000" stroke-width="1.6"/>
<clipPath id="hc"><rect x="745" y="45" width="186" height="181"/></clipPath>
<g clip-path="url(#hc)" fill="none" stroke="#000" stroke-width="1.3">
<circle cx="837.9" cy="135.3" r="30.83"/>
<circle cx="837.9" cy="135.3" r="61.65"/>
<circle cx="837.9" cy="135.3" r="92.48"/>
<path d="M745 135.3H931M837.9 45V226"/>
<path d="M745.4 132.7v5.2M835.3 42.8h5.2M755.7 132.7v5.2M835.3 53.1h5.2M766.0 132.7v5.2M835.3 63.4h5.2M776.2 132.7v5.2M835.3 73.7h5.2M786.5 132.7v5.2M835.3 83.9h5.2M796.8 132.7v5.2M835.3 94.2h5.2M807.1 132.7v5.2M835.3 104.5h5.2M817.4 132.7v5.2M835.3 114.8h5.2M827.6 132.7v5.2M835.3 125.0h5.2M848.2 132.7v5.2M835.3 145.6h5.2M858.4 132.7v5.2M835.3 155.9h5.2M868.7 132.7v5.2M835.3 166.1h5.2M879.0 132.7v5.2M835.3 176.4h5.2M889.3 132.7v5.2M835.3 186.7h5.2M899.5 132.7v5.2M835.3 197.0h5.2M909.8 132.7v5.2M835.3 207.2h5.2M920.1 132.7v5.2M835.3 217.5h5.2M930.4 132.7v5.2M835.3 227.8h5.2"/>
</g>
<g transform="translate(816.1,157.1) rotate(-45)"><text transform="translate(-10.5,4.6) scale(1.300,1)" font-size="13" fill="#000" textLength="16.2" lengthAdjust="spacing">15</text></g>
<g transform="translate(794.3,178.9) rotate(-45)"><text transform="translate(-10.5,4.6) scale(1.300,1)" font-size="13" fill="#000" textLength="16.2" lengthAdjust="spacing">30</text></g>
<g transform="translate(772.5,200.7) rotate(-45)"><text transform="translate(-10.5,4.6) scale(1.300,1)" font-size="13" fill="#000" textLength="16.2" lengthAdjust="spacing">45</text></g>
<text transform="translate(750.1,58.8) scale(1.217,1)" font-size="13" fill="#000" textLength="31.1" lengthAdjust="spacing">knots</text>
<path d="M838.1 139.9L821.9 142.8L813.7 137.6L806.1 136.7L802 137.6L797.3 135.2L803.2 129.7L810.8 134.4L814.3 136.4L830.1 135.8" stroke="#00dd00" stroke-width="2.4" fill="none" stroke-linejoin="round"/>
<rect x="828.2" y="133.8" width="3.6" height="3.6" fill="#00dd00"/><circle cx="838.3" cy="140" r="2.2" fill="#00dd00"/>
<path d="M837.9 135.3L848.6 150.6" stroke="#ff3030" stroke-width="1.5"/>
<path d="M852.5 155.6L844.3 151.8L849.8 146.9Z" fill="#ff3030" stroke="#ff3030" stroke-width="1"/>
<path d="M768.2 270.7H926.2V673.1H768.2ZM768.2 329.6H926.2M768.2 456.2H926.2M768.2 582.4H926.2" fill="none" stroke="#5c5c5c" stroke-width="1.5"/>
<text transform="translate(773.5,289.7) scale(0.897,1)" font-size="13.2" fill="#000" textLength="8.8" lengthAdjust="spacing">K</text>
<text transform="translate(871.5,289.7) scale(1.243,1)" font-size="13.2" fill="#000" textLength="15.1" lengthAdjust="spacing">−5</text>
<text transform="translate(773.5,308.0) scale(0.825,1)" font-size="13.2" fill="#000" textLength="16.1" lengthAdjust="spacing">TT</text>
<text transform="translate(871.5,308.0) scale(1.097,1)" font-size="13.2" fill="#000" textLength="14.7" lengthAdjust="spacing">39</text>
<text transform="translate(773.5,321.0) scale(1.151,1)" font-size="13.2" fill="#000" textLength="55.0" lengthAdjust="spacing">PW (cm)</text>
<text transform="translate(871.5,321.0) scale(1.178,1)" font-size="13.2" fill="#000" textLength="24.7" lengthAdjust="spacing">2.11</text>
<text transform="translate(796.5,347.8) scale(1.153,1)" font-size="13.2" fill="#000" textLength="76.3" lengthAdjust="spacing">Lowest level</text>
<text transform="translate(773.5,370.5) scale(1.207,1)" font-size="13.2" fill="#000" textLength="68.2" lengthAdjust="spacing">Press (mb)</text>
<text transform="translate(773.5,384.3) scale(1.166,1)" font-size="13.2" fill="#000" textLength="63.2" lengthAdjust="spacing">Temp (°C)</text>
<text transform="translate(773.5,397.8) scale(1.119,1)" font-size="13.2" fill="#000" textLength="64.7" lengthAdjust="spacing">Dewp (°C)</text>
<text x="773.6" y="410.8" font-size="13.2" font-weight="bold" font-style="italic">θ</text><text x="780.6" y="412.6" font-size="7" font-weight="bold">E</text><text transform="translate(795.2,410.8) scale(1.103,1)" font-size="13.2" fill="#000" textLength="17.6" lengthAdjust="spacing">(K)</text>
<text transform="translate(773.5,423.9) scale(1.118,1)" font-size="13.2" fill="#000" textLength="41.9" lengthAdjust="spacing">LI (°C)</text>
<text transform="translate(773.5,438.2) scale(1.082,1)" font-size="13.2" fill="#000" textLength="68.2" lengthAdjust="spacing">CAPE (Jkg</text><text transform="translate(847.8,432.4) scale(1.177,1)" font-size="8.2" fill="#000" textLength="9.3" lengthAdjust="spacing">−1</text><text transform="translate(858.9,438.2) scale(0.842,1)" font-size="13.2" fill="#000" textLength="4.4" lengthAdjust="spacing">)</text>
<text transform="translate(773.5,452.0) scale(1.107,1)" font-size="13.2" fill="#000" textLength="55.0" lengthAdjust="spacing">CIN (Jkg</text><text transform="translate(834.9,446.2) scale(1.177,1)" font-size="8.2" fill="#000" textLength="9.3" lengthAdjust="spacing">−1</text><text transform="translate(846.0,452.0) scale(0.842,1)" font-size="13.2" fill="#000" textLength="4.4" lengthAdjust="spacing">)</text>
<text transform="translate(871.5,370.5) scale(1.240,1)" font-size="13.2" fill="#000" textLength="40.4" lengthAdjust="spacing">1019.4</text>
<text transform="translate(871.5,384.3) scale(1.240,1)" font-size="13.2" fill="#000" textLength="25.7" lengthAdjust="spacing">21.4</text>
<text transform="translate(871.5,397.8) scale(1.240,1)" font-size="13.2" fill="#000" textLength="25.7" lengthAdjust="spacing">16.8</text>
<text transform="translate(871.5,410.8) scale(1.240,1)" font-size="13.2" fill="#000" textLength="33.0" lengthAdjust="spacing">326.4</text>
<text transform="translate(871.5,423.9) scale(1.240,1)" font-size="13.2" fill="#000" textLength="18.3" lengthAdjust="spacing">0.8</text>
<text transform="translate(871.5,438.2) scale(1.240,1)" font-size="13.2" fill="#000" textLength="14.7" lengthAdjust="spacing">21</text>
<text transform="translate(871.5,452.0) scale(1.240,1)" font-size="13.2" fill="#000" textLength="14.7" lengthAdjust="spacing">46</text>
<text transform="translate(773.5,497.9) scale(1.207,1)" font-size="13.2" fill="#000" textLength="68.2" lengthAdjust="spacing">Press (mb)</text>
<text transform="translate(773.5,510.8) scale(1.166,1)" font-size="13.2" fill="#000" textLength="63.2" lengthAdjust="spacing">Temp (°C)</text>
<text transform="translate(773.5,524.3) scale(1.119,1)" font-size="13.2" fill="#000" textLength="64.7" lengthAdjust="spacing">Dewp (°C)</text>
<text x="773.6" y="537.6999999999999" font-size="13.2" font-weight="bold" font-style="italic">θ</text><text x="780.6" y="539.4999999999999" font-size="7" font-weight="bold">E</text><text transform="translate(795.2,537.7) scale(1.103,1)" font-size="13.2" fill="#000" textLength="17.6" lengthAdjust="spacing">(K)</text>
<text transform="translate(773.5,551.2) scale(1.118,1)" font-size="13.2" fill="#000" textLength="41.9" lengthAdjust="spacing">LI (°C)</text>
<text transform="translate(773.5,565.3) scale(1.082,1)" font-size="13.2" fill="#000" textLength="68.2" lengthAdjust="spacing">CAPE (Jkg</text><text transform="translate(847.8,559.5) scale(1.177,1)" font-size="8.2" fill="#000" textLength="9.3" lengthAdjust="spacing">−1</text><text transform="translate(858.9,565.3) scale(0.842,1)" font-size="13.2" fill="#000" textLength="4.4" lengthAdjust="spacing">)</text>
<text transform="translate(773.5,578.8) scale(1.107,1)" font-size="13.2" fill="#000" textLength="55.0" lengthAdjust="spacing">CIN (Jkg</text><text transform="translate(834.9,573.0) scale(1.177,1)" font-size="8.2" fill="#000" textLength="9.3" lengthAdjust="spacing">−1</text><text transform="translate(846.0,578.8) scale(0.842,1)" font-size="13.2" fill="#000" textLength="4.4" lengthAdjust="spacing">)</text>
<text transform="translate(871.5,497.9) scale(1.240,1)" font-size="13.2" fill="#000" textLength="40.4" lengthAdjust="spacing">1007.2</text>
<text transform="translate(871.5,510.8) scale(1.240,1)" font-size="13.2" fill="#000" textLength="25.7" lengthAdjust="spacing">21.4</text>
<text transform="translate(871.5,524.3) scale(1.240,1)" font-size="13.2" fill="#000" textLength="25.7" lengthAdjust="spacing">16.8</text>
<text transform="translate(871.5,537.7) scale(1.240,1)" font-size="13.2" fill="#000" textLength="33.0" lengthAdjust="spacing">327.6</text>
<text transform="translate(871.5,551.2) scale(1.240,1)" font-size="13.2" fill="#000" textLength="18.3" lengthAdjust="spacing">0.5</text>
<text transform="translate(871.5,565.3) scale(1.240,1)" font-size="13.2" fill="#000" textLength="14.7" lengthAdjust="spacing">35</text>
<text transform="translate(871.5,578.8) scale(1.240,1)" font-size="13.2" fill="#000" textLength="22.0" lengthAdjust="spacing">152</text>
<text transform="translate(792.3,474.6) scale(1.164,1)" font-size="13.2" fill="#000" textLength="88.0" lengthAdjust="spacing">Most Unstable</text>
<text transform="translate(805.8,596.2) scale(1.179,1)" font-size="13.2" fill="#000" textLength="65.3" lengthAdjust="spacing">Hodograph</text>
<text transform="translate(773.5,614.7) scale(1.130,1)" font-size="13.2" fill="#000" textLength="50.6" lengthAdjust="spacing">EH (Jkg</text><text transform="translate(831.2,608.9) scale(1.177,1)" font-size="8.2" fill="#000" textLength="9.3" lengthAdjust="spacing">−1</text><text transform="translate(842.3,614.7) scale(0.842,1)" font-size="13.2" fill="#000" textLength="4.4" lengthAdjust="spacing">)</text>
<text transform="translate(871.5,614.7) scale(1.300,1)" font-size="13.2" fill="#000" textLength="15.2" lengthAdjust="spacing">−8</text>
<text transform="translate(773.5,628.2) scale(1.107,1)" font-size="13.2" fill="#000" textLength="69.0" lengthAdjust="spacing">SREH (Jkg</text><text transform="translate(850.3,622.4) scale(1.177,1)" font-size="8.2" fill="#000" textLength="9.3" lengthAdjust="spacing">−1</text><text transform="translate(861.4,628.2) scale(0.842,1)" font-size="13.2" fill="#000" textLength="4.4" lengthAdjust="spacing">)</text>
<text transform="translate(871.5,628.2) scale(1.178,1)" font-size="13.2" fill="#000" textLength="14.7" lengthAdjust="spacing">13</text>
<text transform="translate(773.5,650.7) scale(1.212,1)" font-size="13.2" fill="#000" textLength="61.7" lengthAdjust="spacing">StmDir (°)</text>
<text transform="translate(871.5,650.7) scale(1.194,1)" font-size="13.2" fill="#000" textLength="22.0" lengthAdjust="spacing">325</text>
<text transform="translate(773.5,665.0) scale(1.212,1)" font-size="13.2" fill="#000" textLength="73.4" lengthAdjust="spacing">StmSpd (kt)</text>
<text transform="translate(871.5,665.0) scale(1.178,1)" font-size="13.2" fill="#000" textLength="14.7" lengthAdjust="spacing">12</text>
<text transform="translate(751.3,706.0) scale(1.204,1)" font-size="15.6" fill="#000" textLength="143.5" lengthAdjust="spacing">NCEP 1−Hr PType:</text>
<path d="M744.3 711.3H931.4" stroke="#000" stroke-width="1.5"/>
<text transform="translate(816.6,728.8) scale(1.158,1)" font-size="15.5" fill="#000" textLength="37.1" lengthAdjust="spacing">None</text>
<text transform="translate(806.4,750.0) scale(1.299,1)" font-size="12.3" fill="#000" textLength="48.1" lengthAdjust="spacing">(0&quot; L.E.)</text>
</svg></body></html>
